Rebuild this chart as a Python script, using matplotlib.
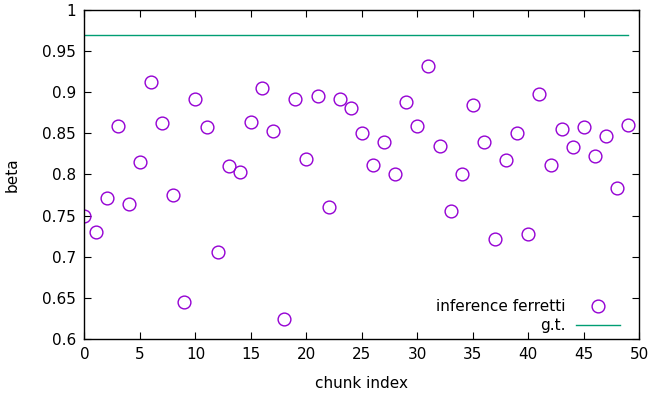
import matplotlib
matplotlib.use("Agg")
import matplotlib.pyplot as plt
import numpy as np

chunk = list(range(50))
beta = [0.749, 0.730, 0.771, 0.859, 0.764, 0.815, 0.912, 0.862, 0.775, 0.645,
        0.892, 0.858, 0.706, 0.810, 0.803, 0.864, 0.905, 0.853, 0.624, 0.892,
        0.819, 0.895, 0.760, 0.892, 0.881, 0.851, 0.812, 0.840, 0.801, 0.888,
        0.859, 0.932, 0.835, 0.756, 0.801, 0.884, 0.840, 0.722, 0.818, 0.851,
        0.728, 0.898, 0.812, 0.855, 0.833, 0.858, 0.823, 0.847, 0.783, 0.860]
gt_x = [0, 49]
gt_y = [0.97, 0.97]
xticks = [0, 5, 10, 15, 20, 25, 30, 35, 40, 45, 50]
yticks = [0.6, 0.65, 0.7, 0.75, 0.8, 0.85, 0.9, 0.95, 1.0]
ytick_labels = ["0.6", "0.65", "0.7", "0.75", "0.8", "0.85", "0.9", "0.95", "1"]

fig = plt.figure(figsize=(6.52, 3.95), dpi=100)
ax = fig.add_axes([0.1296, 0.1418, 0.8509, 0.8329])
ax.plot(chunk, beta, linestyle="none", marker="o", markersize=9.2,
        markerfacecolor="none", markeredgecolor="#9400d3", markeredgewidth=1.0,
        label="inference ferretti")
ax.plot(gt_x, gt_y, color="#009e73", linewidth=1.0, label="g.t.")
ax.set_xlim(0, 50)
ax.set_ylim(0.6, 1.0)
ax.set_xticks(xticks)
ax.set_yticks(yticks)
ax.set_yticklabels(ytick_labels)
ax.tick_params(direction="in", top=True, right=True, labelsize=11, length=5, width=0.8, pad=6)
for s in ax.spines.values():
    s.set_linewidth(1.0)
ax.set_xlabel("chunk index", fontsize=11)
ax.set_ylabel("beta", fontsize=11)
ax.xaxis.label.set_va("center")
ax.yaxis.label.set_va("center")
ax.yaxis.label.set_ha("center")
ax.xaxis.set_label_coords(0.5, -0.134)
ax.yaxis.set_label_coords(-0.131, 0.5)
ax.legend(loc="lower right", bbox_to_anchor=(0.965, 0.018), frameon=False,
          markerfirst=False, fontsize=11, handlelength=2.9, handletextpad=0.65,
          labelspacing=0.25, borderaxespad=0, borderpad=0)
fig.savefig("out.png", dpi=100)
